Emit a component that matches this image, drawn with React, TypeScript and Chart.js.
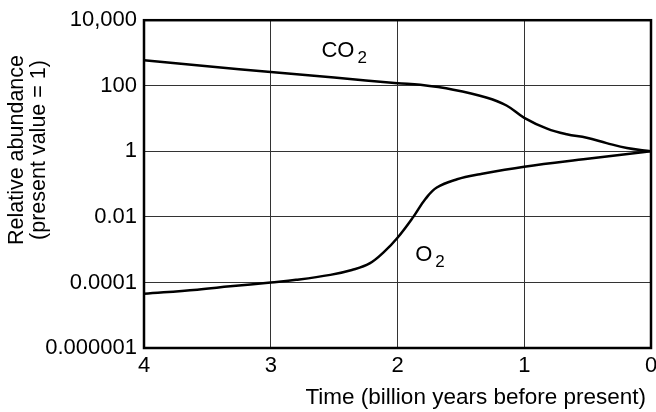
import React, { useEffect, useRef } from "react";
import { Chart, registerables } from "chart.js";

Chart.register(...registerables);

// Time in billion years before present
const co2Years = [4, 3.5, 3, 2.5, 2, 1.82, 1.56, 1.3, 1.14, 1, 0.82, 0.665, 0.507, 0.35, 0.19, 0];
const co2Values = [600, 395, 262, 178, 120, 107, 76, 44, 25, 10.5, 4.9, 3.3, 2.6, 1.78, 1.26, 1];

const o2Years = [4, 3.58, 3.32, 3, 2.8, 2.53, 2.36, 2.22, 2.1, 2, 1.875, 1.78, 1.69, 1.53, 1.35, 1, 0.5, 0];
const o2Values = [4.5e-5, 6e-5, 7.6e-5, 1e-4, 1.2e-4, 1.7e-4, 2.4e-4, 3.8e-4, 9e-4, 2.3e-3, 0.01, 0.035, 0.079, 0.14, 0.2, 0.34, 0.59, 1];

const yTickValues = [1e-6, 1e-4, 1e-2, 1, 100, 10000];
const yTickLabels = ["0.000001", "0.0001", "0.01", "1", "100", "10,000"];
const xTickValues = [4, 3, 2, 1, 0];

const yTitleLines = ["Relative abundance", "(present value = 1)"];
const xTitle = "Time (billion years before present)";

const FONT = "'Liberation Sans', Arial, Helvetica, sans-serif";

const decorPlugin = {
  id: "decor",
  afterDatasetsDraw(chart: any) {
    const { ctx, chartArea } = chart;
    ctx.save();
    ctx.strokeStyle = "#000";
    ctx.lineWidth = 2.5;
    ctx.strokeRect(chartArea.left, chartArea.top, chartArea.right - chartArea.left, chartArea.bottom - chartArea.top);
    ctx.restore();
  },
  afterDraw(chart: any) {
    const { ctx } = chart;
    const xs = chart.scales.x;
    const ys = chart.scales.y;
    ctx.save();
    ctx.fillStyle = "#000";

    // y-axis title, two rotated lines
    ctx.font = `21.5px ${FONT}`;
    ctx.textAlign = "center";
    ctx.textBaseline = "alphabetic";
    const baselines = [23, 45];
    yTitleLines.forEach((line, i) => {
      ctx.save();
      ctx.translate(baselines[i], 150);
      ctx.rotate(-Math.PI / 2);
      ctx.fillText(line, 0, 0);
      ctx.restore();
    });

    // x-axis title
    ctx.font = `22.5px ${FONT}`;
    ctx.textAlign = "right";
    ctx.fillText(xTitle, 646, 404);

    // series labels with subscripts
    const drawSub = (main: string, sub: string, x: number, y: number) => {
      ctx.textAlign = "left";
      ctx.font = `22px ${FONT}`;
      ctx.fillText(main, x, y);
      const w = ctx.measureText(main).width;
      ctx.font = `17px ${FONT}`;
      ctx.fillText(sub, x + w + 3, y + 6);
    };
    drawSub("CO", "2", xs.getPixelForValue(2.6), ys.getPixelForValue(1000) + 4);
    drawSub("O", "2", xs.getPixelForValue(1.86), ys.getPixelForValue(0.001) + 11);
    ctx.restore();
  },
};

export default function App() {
  const ref = useRef<HTMLCanvasElement | null>(null);
  useEffect(() => {
    if (!ref.current) return;
    const chart = new Chart(ref.current, {
      type: "line",
      data: {
        datasets: [
          {
            label: "CO2",
            data: co2Years.map((t, i) => ({ x: t, y: co2Values[i] })),
            borderColor: "#000",
            borderWidth: 2.5,
            pointRadius: 0,
            tension: 0.4,
          },
          {
            label: "O2",
            data: o2Years.map((t, i) => ({ x: t, y: o2Values[i] })),
            borderColor: "#000",
            borderWidth: 2.5,
            pointRadius: 0,
            tension: 0.4,
          },
        ],
      },
      options: {
        responsive: false,
        animation: false,
        layout: { padding: { top: 13, right: 13, left: 0, bottom: 0 } },
        plugins: { legend: { display: false }, tooltip: { enabled: false } },
        scales: {
          x: {
            type: "linear",
            min: 0,
            max: 4,
            reverse: true,
            afterBuildTicks: (s: any) => {
              s.ticks = xTickValues.map((v) => ({ value: v }));
            },
            afterFit: (s: any) => {
              s.height = 64;
            },
            ticks: {
              color: "#000",
              font: { size: 22, family: FONT },
              padding: 5,
              maxRotation: 0,
              callback: (v: any) => String(v),
            },
            grid: { color: "#333", lineWidth: 1, drawTicks: false },
            border: { display: false },
          },
          y: {
            type: "logarithmic",
            min: 1e-6,
            max: 1e4,
            afterBuildTicks: (s: any) => {
              s.ticks = yTickValues.map((v) => ({ value: v }));
            },
            afterFit: (s: any) => {
              s.width = 144;
            },
            ticks: {
              color: "#000",
              font: { size: 22, family: FONT },
              padding: 7,
              callback: (v: any) => {
                const i = yTickValues.findIndex((t) => Math.abs(Math.log10(t) - Math.log10(v)) < 1e-6);
                return i >= 0 ? yTickLabels[i] : "";
              },
            },
            grid: { color: "#333", lineWidth: 1, drawTicks: false },
            border: { display: false },
          },
        },
      },
      plugins: [decorPlugin],
    } as any);
    return () => chart.destroy();
  }, []);
  return (
    <div style={{ position: "fixed", left: 0, top: 0, width: 664, height: 412, background: "#fff" }}>
      <canvas ref={ref} width={664} height={412} style={{ display: "block" }} />
    </div>
  );
}
